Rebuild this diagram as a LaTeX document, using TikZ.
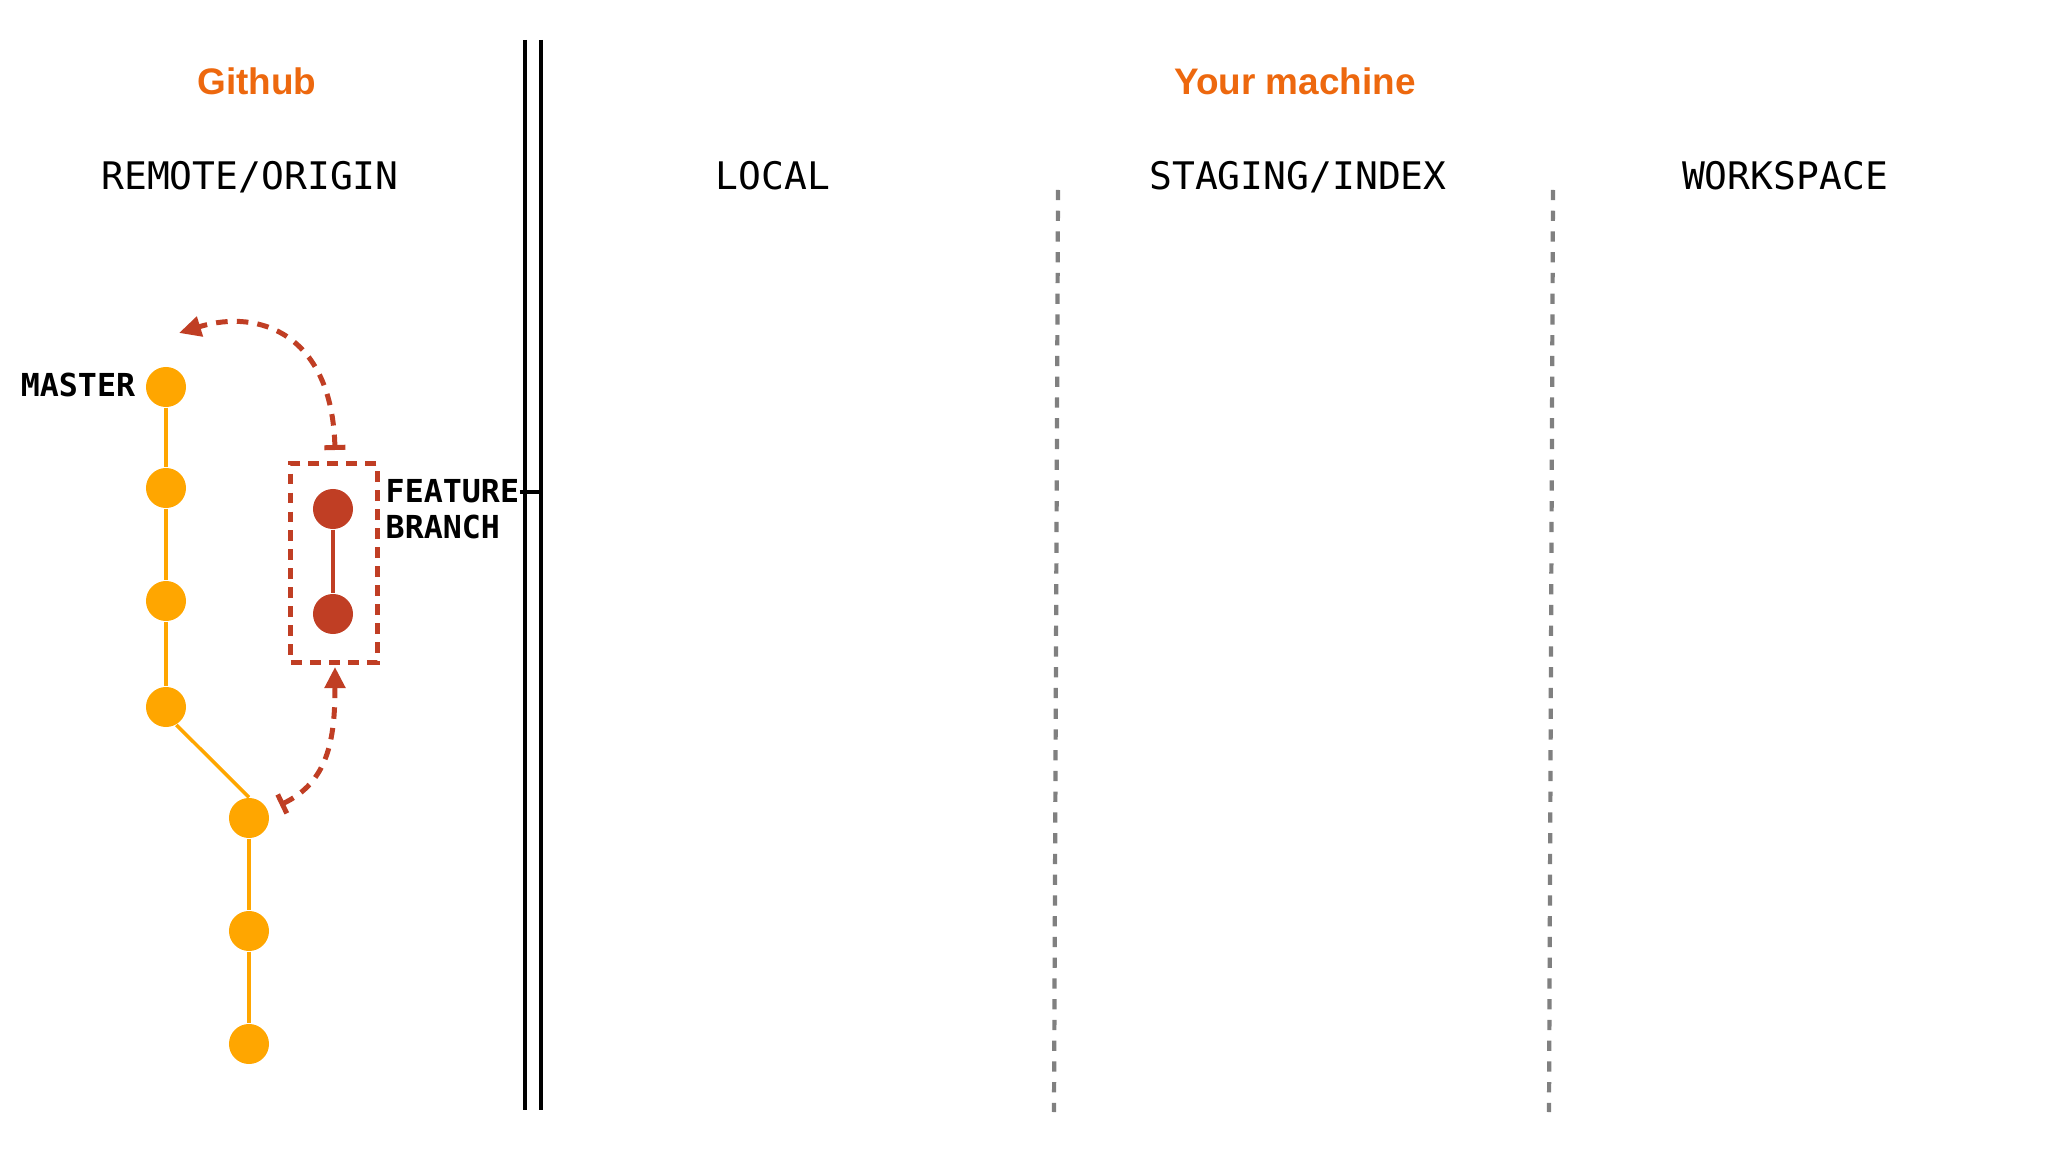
\documentclass[tikz,border=0pt]{standalone}
\usepackage{fontspec}
\setmainfont{Liberation Sans}
\newfontfamily\monof{DejaVu Sans Mono}
\usetikzlibrary{arrows.meta}
\definecolor{gold}{RGB}{255,166,0}
\definecolor{rust}{RGB}{192,62,36}
\definecolor{titleor}{RGB}{237,104,14}
\definecolor{sepgray}{RGB}{128,128,128}
\tikzset{
  title/.style={font=\fontsize{10.5}{12}\selectfont\bfseries, text=titleor, inner sep=0pt, anchor=base},
  head/.style={font=\monof\fontsize{10.8}{13}\selectfont, inner sep=0pt, anchor=base},
  lbl/.style={font=\monof\bfseries\fontsize{9}{11}\selectfont, inner sep=0pt, anchor=base},
  mcommit/.style={circle, fill=gold, minimum size=0.4cm, inner sep=0pt},
  fcommit/.style={circle, fill=rust, minimum size=0.4cm, inner sep=0pt},
  mlink/.style={gold, line width=1pt},
  flink/.style={rust, line width=1pt},
  wall/.style={black, line width=1.4pt},
  sep/.style={sepgray, line width=1.2pt, dash pattern=on 2.9pt off 3pt},
  rdash/.style={rust, line width=1.42pt, dash pattern=on 3.3pt off 2.6pt},
}
\begin{document}
\begin{tikzpicture}[x=0.01cm, y=-0.01cm]
\path[use as bounding box] (0,0) rectangle (2048,1152);
% titles
\node[title] (gh) at (257,95) {Github};
\node[title] (ym) at (1295,95) {Your machine};
% headings
\node[head] (remote) at (250,190) {REMOTE/ORIGIN};
\node[head] (local) at (773,190) {LOCAL};
\node[head] (staging) at (1298,190) {STAGING/INDEX};
\node[head] (work) at (1785,190) {WORKSPACE};
% walls
\coordinate (wa1) at (525,40);
\coordinate (wa2) at (525,1110);
\coordinate (wb1) at (541,40);
\coordinate (wb2) at (541,1110);
\draw[wall] (wa1) -- (wa2);
\draw[wall] (wb1) -- (wb2);
% separators
\coordinate (s1t) at (1058,190);
\coordinate (s1b) at (1054,1112);
\coordinate (s2t) at (1553,190);
\coordinate (s2b) at (1549,1112);
\draw[sep] (s1t) -- (s1b);
\draw[sep] (s2t) -- (s2b);
% master commits
\node[mcommit] (m1) at (166,387) {};
\node[mcommit] (m2) at (166,488) {};
\node[mcommit] (m3) at (166,601) {};
\node[mcommit] (m4) at (166,707) {};
\node[mcommit] (m5) at (249,818) {};
\node[mcommit] (m6) at (249,931) {};
\node[mcommit] (m7) at (249,1044) {};
\draw[mlink] (m1) -- (m2);
\draw[mlink] (m2) -- (m3);
\draw[mlink] (m3) -- (m4);
\draw[mlink] (m4.-60) -- (m5.north);
\draw[mlink] (m5) -- (m6);
\draw[mlink] (m6) -- (m7);
\node[lbl] (master) at (78,397) {MASTER};
% feature branch
\node[fcommit] (f1) at (333,509) {};
\node[fcommit] (f2) at (333,614) {};
\draw[flink] (f1) -- (f2);
\node[draw=rust, line width=1.42pt, dash pattern=on 3.1pt off 2.3pt, minimum width=0.86cm, minimum height=1.98cm, inner sep=0pt] (fbox) at (334,563) {};
\node[lbl, anchor=base west] (feat) at (385,502) {FEATURE};
\node[lbl, anchor=base west] (branch) at (385,538) {BRANCH};
\coordinate (tk) at (541,492);
\draw[black, line width=1.2pt] (feat.east |- tk) -- (tk);
% arrows
\coordinate (fs) at (335,450);
\coordinate (me) at (179,333);
\draw[rdash, {Bar[width=0.21cm]}-{Triangle[length=0.22cm, width=0.2cm]}] (fs) .. controls (332,335) and (260,308) .. (me);
\coordinate (ms) at (280,805);
\coordinate (fe) at (335,667);
\draw[rdash, {Bar[width=0.21cm]}-{Triangle[length=0.21cm, width=0.2cm]}] (ms) .. controls (328,782) and (335,740) .. (fe);
\end{tikzpicture}
\end{document}
